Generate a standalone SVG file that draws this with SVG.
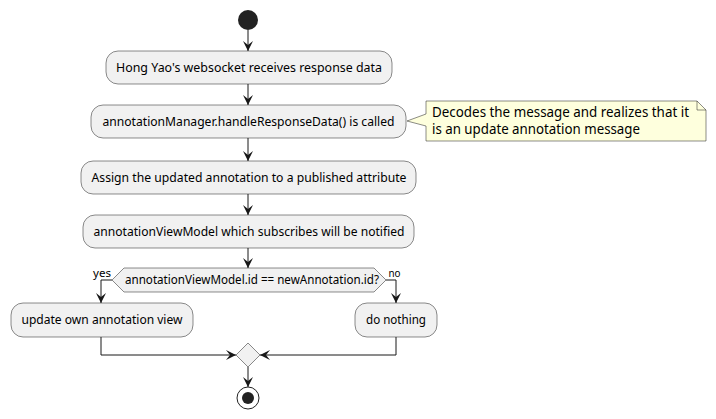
<svg xmlns="http://www.w3.org/2000/svg" width="716" height="419" viewBox="0 0 716 419">
<defs>
<marker id="arr" viewBox="0 0 10 10" refX="10" refY="5" markerWidth="10" markerHeight="10" markerUnits="userSpaceOnUse" orient="auto">
<path d="M0,0 L10,5 L0,10 L4,5 Z" fill="#181818"/>
</marker>
<style>
.box{fill:#F1F1F1;stroke:#181818;stroke-width:0.5}
.t{font-family:"Noto Sans","Liberation Sans",sans-serif;font-size:12.5px;fill:#000;text-anchor:middle}
.lbl{font-family:"Noto Sans","Liberation Sans",sans-serif;font-size:11px;fill:#000}
.nt{font-family:"Noto Sans","Liberation Sans",sans-serif;font-size:13.5px;fill:#000}
.c{fill:none;stroke:#181818;stroke-width:1}
</style>
</defs>
<rect width="716" height="419" fill="#FFFFFF"/>
<g id="start"><circle cx="248" cy="20" r="10" fill="#222222"/></g>
<g id="n1"><rect class="box" x="106" y="51" width="286" height="33" rx="12"/><text class="t" x="249" y="72" textLength="266" lengthAdjust="spacingAndGlyphs">Hong Yao's websocket receives response data</text></g>
<g id="n2"><rect class="box" x="91" y="105" width="315" height="33" rx="12"/><text class="t" x="248.5" y="126" textLength="292" lengthAdjust="spacingAndGlyphs">annotationManager.handleResponseData() is called</text></g>
<g id="note"><path d="M426,101 L697,101 L706,110 L706,141 L426,141 L426,126 L407,121 L426,114 Z" fill="#FEFFDD" stroke="#181818" stroke-width="0.5"/><path d="M697,101 L697,110 L706,110" fill="none" stroke="#181818" stroke-width="0.5"/><text class="nt" x="432" y="117" textLength="257" lengthAdjust="spacingAndGlyphs">Decodes the message and realizes that it</text><text class="nt" x="432" y="134" textLength="208" lengthAdjust="spacingAndGlyphs">is an update annotation message</text></g>
<g id="n3"><rect class="box" x="81" y="161" width="335" height="33" rx="12"/><text class="t" x="249" y="182" textLength="315" lengthAdjust="spacingAndGlyphs">Assign the updated annotation to a published attribute</text></g>
<g id="n4"><rect class="box" x="83" y="215" width="331" height="33" rx="12"/><text class="t" x="249" y="236" textLength="311" lengthAdjust="spacingAndGlyphs">annotationViewModel which subscribes will be notified</text></g>
<g id="decision"><polygon class="box" points="124,268 374,268 386,280 374,292 124,292 112,280"/><text class="t" x="252" y="284" style="font-size:12px" textLength="254" lengthAdjust="spacingAndGlyphs">annotationViewModel.id == newAnnotation.id?</text></g>
<g id="n5"><rect class="box" x="11" y="303" width="182" height="34" rx="12"/><text class="t" x="102" y="324" textLength="161" lengthAdjust="spacingAndGlyphs">update own annotation view</text></g>
<g id="n6"><rect class="box" x="355" y="303" width="82" height="34" rx="12"/><text class="t" x="396" y="324" textLength="60" lengthAdjust="spacingAndGlyphs">do nothing</text></g>
<g id="merge"><polygon class="box" points="248,343 260,355 248,367 236,355"/></g>
<g id="end"><circle cx="248" cy="398" r="11" fill="none" stroke="#222222" stroke-width="1"/><circle cx="248" cy="398" r="6" fill="#222222"/></g>
<g id="connectors">
<line class="c" x1="248" y1="30" x2="248" y2="51" marker-end="url(#arr)"/>
<line class="c" x1="248" y1="84" x2="248" y2="105" marker-end="url(#arr)"/>
<line class="c" x1="248" y1="138" x2="248" y2="161" marker-end="url(#arr)"/>
<line class="c" x1="248" y1="194" x2="248" y2="215" marker-end="url(#arr)"/>
<line class="c" x1="248" y1="248" x2="248" y2="268" marker-end="url(#arr)"/>
<polyline class="c" points="112,280 101,280 101,303" marker-end="url(#arr)"/>
<polyline class="c" points="386,280 396,280 396,303" marker-end="url(#arr)"/>
<polyline class="c" points="101,337 101,355 236,355" marker-end="url(#arr)"/>
<polyline class="c" points="396,337 396,355 260,355" marker-end="url(#arr)"/>
<line class="c" x1="248" y1="367" x2="248" y2="387" marker-end="url(#arr)"/>
<text class="lbl" x="93" y="277" textLength="18" lengthAdjust="spacingAndGlyphs">yes</text>
<text class="lbl" x="388.5" y="277" textLength="12" lengthAdjust="spacingAndGlyphs">no</text>
</g>
</svg>
